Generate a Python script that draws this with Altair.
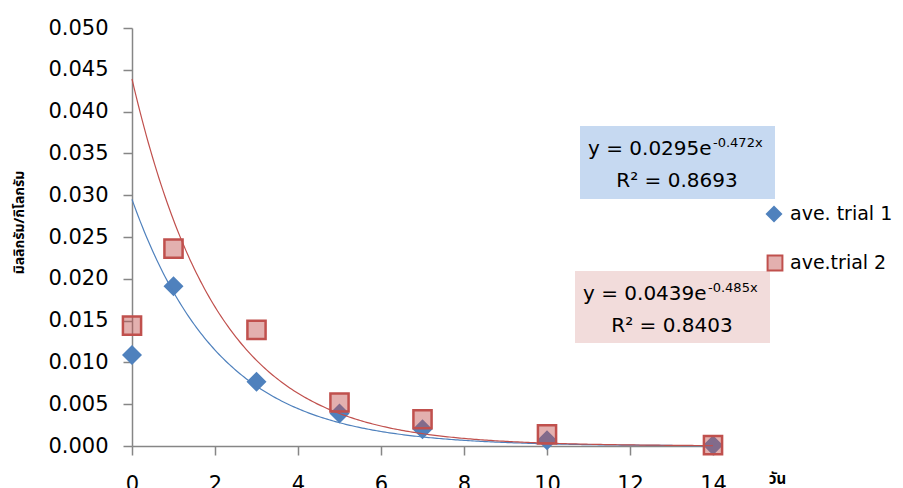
import altair as alt
import pandas as pd

# ---- data ----
days = [0, 1, 3, 5, 7, 10, 14]
trial1 = [0.0109, 0.0191, 0.0077, 0.0039, 0.0020, 0.0007, 0.0001]
trial2 = [0.0144, 0.0236, 0.0139, 0.0052, 0.0032, 0.0014, 0.0001]
series_names = ["ave. trial 1", "ave.trial 2"]
# exponential trendlines as printed on the chart: y = a * e^(b x)
trend_a = [0.0295, 0.0439]
trend_b = [-0.472, -0.485]
r2 = ["0.8693", "0.8403"]
x_ticks = [0, 2, 4, 6, 8, 10, 12, 14]
y_ticks = [0, 0.005, 0.010, 0.015, 0.020, 0.025, 0.030, 0.035, 0.040, 0.045, 0.050]

FONT = "DejaVu Sans"
THAI = "Noto Sans Thai, Noto Sans, DejaVu Sans"
BLUE = "#4F81BD"
RED = "#C0504D"

df1 = pd.DataFrame({"day": days, "value": trial1})
df2 = pd.DataFrame({"day": days, "value": trial2})

xscale = alt.Scale(domain=[0, 14], nice=False, zero=True)
yscale = alt.Scale(domain=[0, 0.05], nice=False)

xaxis = alt.Axis(values=x_ticks, title="วัน", titleFont=THAI, titleFontWeight="bold",
                 titleFontSize=15, titleX=645, titleY=32, titleAlign="center",
                 titleBaseline="middle", labelFontSize=21, labelPadding=18,
                 labelFlush=False, labelOverlap=False)
yaxis = alt.Axis(values=y_ticks, format=".3f", title="มิลลิกรัม/กิโลกรัม", titleFont=THAI,
                 titleFontWeight="bold", titleFontSize=14, titleX=-113, titleY=194,
                 titleAlign="center", titleBaseline="middle", titleAngle=270,
                 labelFontSize=21, labelPadding=15)

X = alt.X("day:Q", scale=xscale, axis=xaxis)
Y = alt.Y("value:Q", scale=yscale, axis=yaxis)

diamonds = alt.Chart(df1).mark_point(shape="diamond", filled=True, size=400,
                                     color=BLUE, opacity=1).encode(x=X, y=Y)
squares = alt.Chart(df2).mark_point(shape="square", filled=False, size=330,
                                    fill=RED, fillOpacity=0.45, stroke=RED,
                                    strokeWidth=2.5, opacity=1).encode(x=X, y=Y)

def trend(i, color):
    return (alt.Chart(alt.sequence(0, 14.001, 0.05, as_="day"))
            .transform_calculate(value=f"{trend_a[i]} * exp({trend_b[i]} * datum.day)")
            .mark_line(color=color, strokeWidth=1.2)
            .encode(x=alt.X("day:Q", scale=xscale, axis=xaxis),
                    y=alt.Y("value:Q", scale=yscale, axis=yaxis)))

line1 = trend(0, BLUE)
line2 = trend(1, RED)

# ---- equation boxes ----
def box(x, x2, y, y2, color):
    return alt.Chart(pd.DataFrame({"k": [0]})).mark_rect(color=color).encode(
        x=alt.value(x), x2=alt.value(x2), y=alt.value(y), y2=alt.value(y2))

def txt(s, x, y, size, align="left"):
    return alt.Chart(pd.DataFrame({"t": [s]})).mark_text(
        font=FONT, fontSize=size, align=align, baseline="alphabetic", color="#000000"
    ).encode(text="t:N", x=alt.value(x), y=alt.value(y))

eq1 = [
    box(448, 643, 98, 171, "#C6D9F1"),
    txt(f"y = {trend_a[0]}e", 456, 127, 20),
    txt(f"{trend_b[0]}x", 581, 119, 13),
    txt(f"R² = {r2[0]}", 545, 159, 20, "center"),
]
eq2 = [
    box(443, 638, 243, 315, "#F2DCDB"),
    txt(f"y = {trend_a[1]}e", 451, 272, 20),
    txt(f"{trend_b[1]}x", 576, 264, 13),
    txt(f"R² = {r2[1]}", 540, 304, 20, "center"),
]

# ---- legend ----
def legend_sym(shape, x, y, **kw):
    return alt.Chart(pd.DataFrame({"k": [0]})).mark_point(shape=shape, opacity=1, **kw).encode(
        x=alt.value(x), y=alt.value(y))

def legend_txt(s, x, y):
    return alt.Chart(pd.DataFrame({"t": [s]})).mark_text(
        font=FONT, fontSize=19, align="left", baseline="middle", color="#000000"
    ).encode(text="t:N", x=alt.value(x), y=alt.value(y))

legend = [
    legend_sym("diamond", 642, 186, filled=True, color=BLUE, size=290),
    legend_txt(series_names[0], 658, 186),
    legend_sym("square", 643, 235, filled=False, fill=RED, fillOpacity=0.45,
               stroke=RED, strokeWidth=2, size=220),
    legend_txt(series_names[1], 658, 235),
]

chart = alt.layer(
    *eq1, *eq2, diamonds, line1, line2, squares, *legend
).properties(
    width=581, height=418,
    autosize=alt.AutoSizeParams(type="none"),
    padding={"left": 132, "top": 28, "right": 190, "bottom": 42},
    background="white",
).configure_view(stroke=None).configure_axis(
    grid=False, domainColor="#868686", tickColor="#868686", domainWidth=1.5,
    tickWidth=1.5, tickSize=9, labelFont=FONT, labelColor="#000000",
    titleColor="#000000",
)

chart.save("out.html", embed_options={"renderer": "svg", "actions": False})
